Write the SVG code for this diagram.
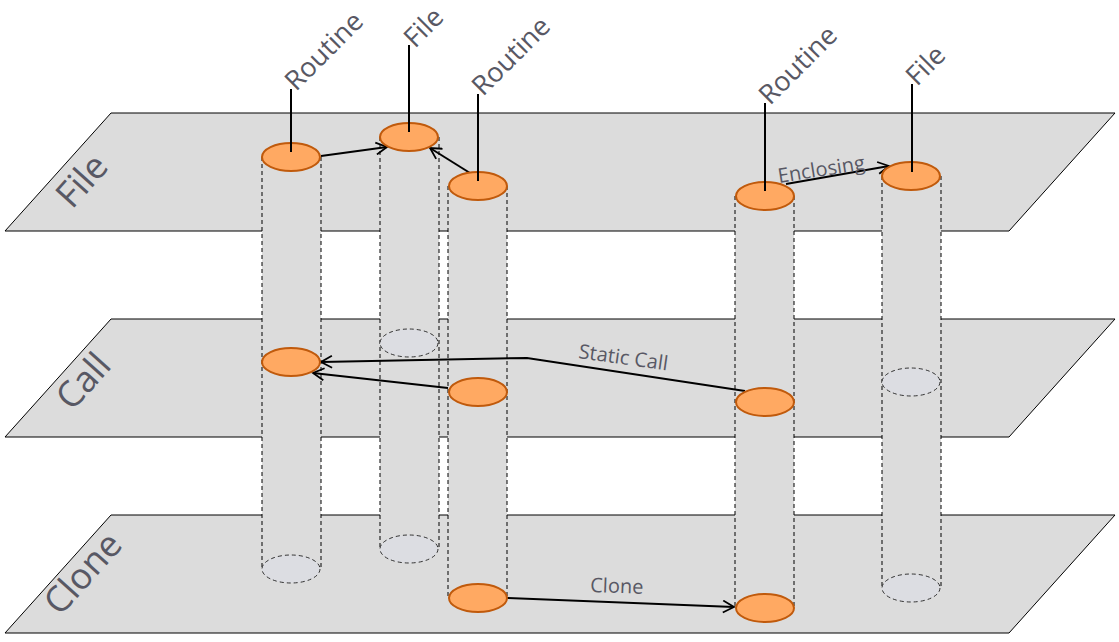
<svg xmlns="http://www.w3.org/2000/svg" width="1119" height="642" viewBox="0 0 1119 642">
<style>
.pl{fill:#dcdcdc;stroke:#000;stroke-width:1}
.col{fill:#dcdcdc}
.side{stroke:#000;stroke-width:1;stroke-dasharray:4,3}
.or{fill:#ffa962;stroke:#c05a0c;stroke-width:2}
.gh{fill:#dcdde2;stroke:#333;stroke-width:1;stroke-dasharray:4,3}
.ln{stroke:#000;stroke-width:2;fill:none}
.t{font-family:"Open Sans","DejaVu Sans",sans-serif;fill:#585864}
</style>
<defs><marker id="a" markerWidth="14" markerHeight="14" refX="12" refY="7" orient="auto" markerUnits="userSpaceOnUse"><path d="M1,1 L12,7 L1,13" fill="none" stroke="#000" stroke-width="1.8"/></marker></defs>
<g id="planes">
<polygon class="pl" points="5,231 111,113 1115,113 1009,231"/>
<polygon class="pl" points="5,437 111,319 1115,319 1009,437"/>
<polygon class="pl" points="5,633 111,515 1115,515 1009,633"/>
<text class="t" font-size="36" transform="translate(72,210) rotate(-48)">File</text>
<text class="t" font-size="36" transform="translate(72,412) rotate(-48)">Call</text>
<text class="t" font-size="36" transform="translate(60,617) rotate(-48)">Clone</text>
</g>
<g id="columns">
<rect class="col" x="262" y="157" width="59" height="412"/>
<line class="side" x1="262" y1="157" x2="262" y2="569"/><line class="side" x1="321" y1="157" x2="321" y2="569"/>
<rect class="col" x="380" y="137" width="59" height="412"/>
<line class="side" x1="380" y1="137" x2="380" y2="549"/><line class="side" x1="439" y1="137" x2="439" y2="549"/>
<rect class="col" x="448" y="186" width="59" height="412"/>
<line class="side" x1="448" y1="186" x2="448" y2="598"/><line class="side" x1="507" y1="186" x2="507" y2="598"/>
<rect class="col" x="735" y="196" width="59" height="412"/>
<line class="side" x1="735" y1="196" x2="735" y2="608"/><line class="side" x1="794" y1="196" x2="794" y2="608"/>
<rect class="col" x="882" y="176" width="59" height="412"/>
<line class="side" x1="882" y1="176" x2="882" y2="588"/><line class="side" x1="941" y1="176" x2="941" y2="588"/>
<ellipse class="gh" cx="291" cy="569" rx="29" ry="14"/>
<ellipse class="gh" cx="409" cy="343" rx="29" ry="14"/>
<ellipse class="gh" cx="409" cy="549" rx="29" ry="14"/>
<ellipse class="gh" cx="911" cy="382" rx="29" ry="14"/>
<ellipse class="gh" cx="911" cy="588" rx="29" ry="14"/>
</g>
<g id="connectors">
<line class="ln" x1="321" y1="156" x2="387" y2="147" marker-end="url(#a)"/>
<line class="ln" x1="478" y1="178" x2="430" y2="148" marker-end="url(#a)"/>
<line class="ln" x1="786" y1="184" x2="889" y2="166" marker-end="url(#a)"/>
<polyline class="ln" points="745,391 527,358 321,362" marker-end="url(#a)"/>
<line class="ln" x1="448" y1="388" x2="313" y2="373" marker-end="url(#a)"/>
<line class="ln" x1="507" y1="598" x2="734" y2="607" marker-end="url(#a)"/>
<text class="t" font-size="20" transform="translate(779,183) rotate(-9)">Enclosing</text>
<text class="t" font-size="20" transform="translate(578,358) rotate(8)">Static  Call</text>
<text class="t" font-size="20" transform="translate(590,592) rotate(2)">Clone</text>
</g>
<g id="n1"><ellipse class="or" cx="291" cy="157" rx="29" ry="14"/><ellipse class="or" cx="291" cy="362" rx="29" ry="14"/><line class="ln" x1="291" y1="89" x2="291" y2="152"/><text class="t" font-size="27" transform="translate(296,92) rotate(-45)">Routine</text></g>
<g id="n2"><ellipse class="or" cx="409" cy="137" rx="29" ry="14"/><line class="ln" x1="409" y1="45" x2="409" y2="132"/><text class="t" font-size="27" transform="translate(415,49) rotate(-45)">File</text></g>
<g id="n3"><ellipse class="or" cx="478" cy="186" rx="29" ry="14"/><ellipse class="or" cx="478" cy="392" rx="29" ry="14"/><ellipse class="or" cx="478" cy="598" rx="29" ry="14"/><line class="ln" x1="478" y1="94" x2="478" y2="181"/><text class="t" font-size="27" transform="translate(483,97) rotate(-45)">Routine</text></g>
<g id="n4"><ellipse class="or" cx="765" cy="196" rx="29" ry="14"/><ellipse class="or" cx="765" cy="402" rx="29" ry="14"/><ellipse class="or" cx="765" cy="608" rx="29" ry="14"/><line class="ln" x1="765" y1="103" x2="765" y2="191"/><text class="t" font-size="27" transform="translate(770,106) rotate(-45)">Routine</text></g>
<g id="n5"><ellipse class="or" cx="911" cy="176" rx="29" ry="14"/><line class="ln" x1="912" y1="84" x2="912" y2="172"/><text class="t" font-size="27" transform="translate(917,87) rotate(-45)">File</text></g>
</svg>
